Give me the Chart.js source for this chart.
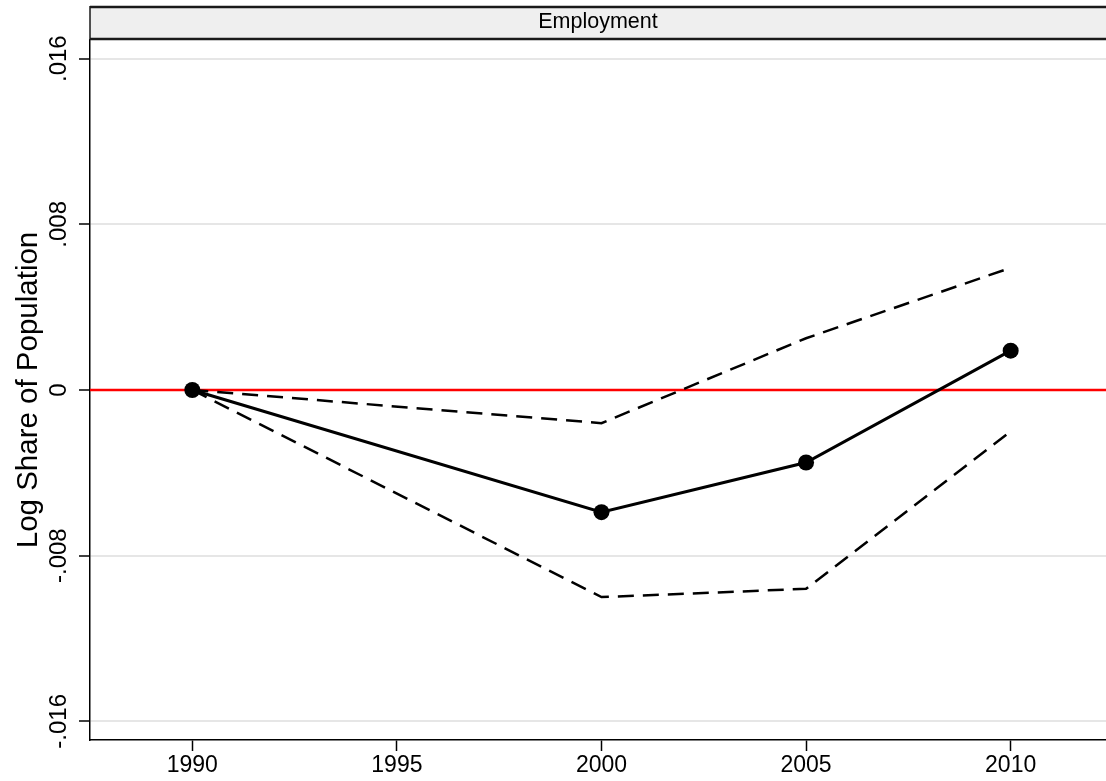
<!DOCTYPE html>
<html>
<head>
<meta charset="utf-8">
<script src="https://cdn.jsdelivr.net/npm/chart.js@4/dist/chart.umd.min.js"></script>
<style>
  html, body { margin: 0; padding: 0; background: #fff; overflow: hidden; }
  #wrap { width: 1106px; height: 781px; position: relative; }
</style>
</head>
<body>
<div id="wrap"><canvas id="c" width="1106" height="781"></canvas></div>
<script>
// Event-study estimates for employment (log share of population)
const years = [1990, 2000, 2005, 2010];
const estimate = [0, -0.0059, -0.0035, 0.0019];
const upperCI = [0, -0.0016, 0.0025, 0.0059];
const lowerCI = [0, -0.0100, -0.0096, -0.0020];

const xTicks = [1990, 1995, 2000, 2005, 2010];
const yTicks = [-0.016, -0.008, 0, 0.008, 0.016];
const yTickLabels = ['-.016', '-.008', '0', '.008', '.016'];
const xRange = [1987.5, 2012.33];
const yRange = [-0.0169, 0.0169];
const referenceLevel = 0;
const panelTitle = 'Employment';
const yTitle = 'Log Share of Population';

const FONT = '"Liberation Sans", Arial, Helvetica, sans-serif';

const pts = (vals) => years.map((x, i) => ({ x, y: vals[i] }));

// Panel header strip, rotated y labels and axis title
const decorations = {
  id: 'decorations',
  afterDraw(chart) {
    const { ctx, chartArea, scales } = chart;
    const xs = scales.x, ys = scales.y;
    ctx.save();
    // header strip
    ctx.fillStyle = '#efefef';
    ctx.fillRect(chartArea.left, 7, chartArea.right - chartArea.left, 32);
    ctx.strokeStyle = '#1a1a1a';
    ctx.lineWidth = 2.5;
    ctx.beginPath();
    ctx.moveTo(chartArea.left, 7); ctx.lineTo(chartArea.right, 7);
    ctx.moveTo(chartArea.left, 39); ctx.lineTo(chartArea.right, 39);
    ctx.stroke();
    ctx.lineWidth = 1.5;
    ctx.beginPath();
    ctx.moveTo(chartArea.left, 6); ctx.lineTo(chartArea.left, 40);
    ctx.stroke();
    ctx.fillStyle = '#000';
    ctx.font = '21.5px ' + FONT;
    ctx.textAlign = 'center';
    ctx.textBaseline = 'middle';
    ctx.fillText(panelTitle, (chartArea.left + chartArea.right) / 2, 22);

    // x tick labels
    ctx.font = '23px ' + FONT;
    ctx.textBaseline = 'middle';
    xTicks.forEach(v => {
      ctx.fillText(String(v), xs.getPixelForValue(v), 766);
    });

    // y tick labels, rotated
    ctx.font = '24px ' + FONT;
    yTicks.forEach((v, i) => {
      ctx.save();
      ctx.translate(59, ys.getPixelForValue(v));
      ctx.rotate(-Math.PI / 2);
      ctx.textAlign = 'center';
      ctx.textBaseline = 'middle';
      ctx.fillText(yTickLabels[i], 0, 0);
      ctx.restore();
    });

    // y axis title
    ctx.save();
    ctx.font = '29.5px ' + FONT;
    ctx.translate(29, (ys.getPixelForValue(yTicks[0]) + ys.getPixelForValue(yTicks[yTicks.length - 1])) / 2);
    ctx.rotate(-Math.PI / 2);
    ctx.textAlign = 'center';
    ctx.textBaseline = 'middle';
    ctx.fillText(yTitle, 0, 0);
    ctx.restore();
    ctx.restore();
  }
};

const noPad = (s) => { s.paddingLeft = 0; s.paddingRight = 0; s.paddingTop = 0; s.paddingBottom = 0; };

new Chart(document.getElementById('c'), {
  type: 'line',
  data: {
    datasets: [
      {
        label: 'Point estimate',
        data: pts(estimate),
        borderColor: '#000',
        backgroundColor: '#000',
        borderWidth: 3,
        pointRadius: 8,
        pointHoverRadius: 8,
        pointBorderWidth: 0,
        tension: 0,
        order: 1
      },
      {
        label: 'Upper bound',
        data: pts(upperCI),
        borderColor: '#000',
        borderWidth: 2.5,
        borderDash: [16, 9],
        pointRadius: 0,
        tension: 0,
        order: 2
      },
      {
        label: 'Lower bound',
        data: pts(lowerCI),
        borderColor: '#000',
        borderWidth: 2.5,
        borderDash: [16, 9],
        pointRadius: 0,
        tension: 0,
        order: 3
      },
      {
        label: 'Zero',
        data: xRange.map(x => ({ x, y: referenceLevel })),
        borderColor: '#ff0000',
        borderWidth: 2.5,
        pointRadius: 0,
        order: 4
      }
    ]
  },
  options: {
    responsive: false,
    animation: false,
    events: [],
    layout: { autoPadding: false, padding: { top: 40, right: 0, left: 0, bottom: 0 } },
    plugins: { legend: { display: false }, tooltip: { enabled: false } },
    scales: {
      x: {
        type: 'linear',
        min: xRange[0],
        max: xRange[1],
        afterBuildTicks: (s) => { s.ticks = xTicks.map(v => ({ value: v })); },
        afterFit: (s) => { s.height = 41; noPad(s); },
        ticks: { display: false },
        grid: { drawOnChartArea: false, tickLength: 11, tickColor: '#000', tickWidth: 1.5 },
        border: { color: '#000', width: 1.5 }
      },
      y: {
        type: 'linear',
        min: yRange[0],
        max: yRange[1],
        afterBuildTicks: (s) => { s.ticks = yTicks.map(v => ({ value: v })); },
        afterFit: (s) => { s.width = 90; noPad(s); },
        ticks: { display: false },
        grid: { color: '#e6e6e6', lineWidth: 2, tickLength: 11, tickColor: '#000', tickWidth: 1.5 },
        border: { color: '#000', width: 1.5 }
      }
    }
  },
  plugins: [decorations]
});
</script>
</body>
</html>
